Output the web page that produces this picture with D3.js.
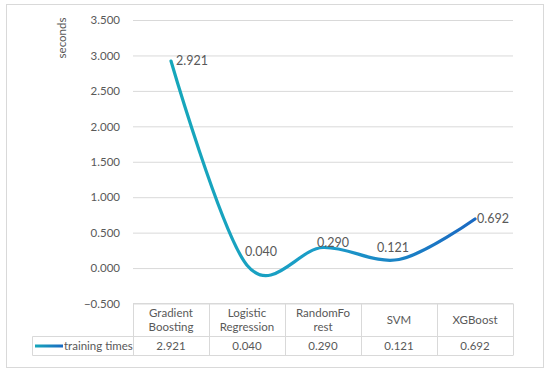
<!DOCTYPE html>
<html lang="en">
<head>
  <meta charset="UTF-8">
  <title>Training times</title>
  <script src="https://cdn.jsdelivr.net/npm/d3@7/dist/d3.min.js"></script>
  <style>
    body { margin: 0; background: #fff; }
    text { font-family: 'Lato', 'Open Sans', sans-serif; fill: #595959; }
  </style>
</head>
<body>
  <div id="chart"></div>
  <script>
    // data
    const models = ['Gradient Boosting', 'Logistic Regression', 'RandomForest', 'SVM', 'XGBoost'];
    // header text as it wraps in the table
    const headerLines = [['Gradient', 'Boosting'], ['Logistic', 'Regression'], ['RandomFo', 'rest'], ['SVM'], ['XGBoost']];
    const trainingTimes = [2.921, 0.040, 0.290, 0.121, 0.692];
    const yTicks = [-0.5, 0, 0.5, 1, 1.5, 2, 2.5, 3, 3.5];
    const seriesName = 'training times';

    const W = 550, H = 372;
    const plot = { left: 133, right: 513, top: 20, bottom: 303.5 };
    const grid = '#d9d9d9';

    const svg = d3.select('#chart').append('svg')
      .attr('width', W)
      .attr('height', H);

    // outer frame
    svg.append('rect')
      .attr('x', 6.5).attr('y', 4.5)
      .attr('width', 537).attr('height', 363)
      .attr('fill', '#fff')
      .attr('stroke', grid);

    let x = d3.scaleBand()
      .domain(models)
      .range([plot.left, plot.right]);
    let y = d3.scaleLinear()
      .domain([-0.5, 3.5])
      .range([plot.bottom, plot.top]);

    // gridlines + labels
    let yAxis = d3.axisLeft(y)
      .tickValues(yTicks)
      .tickFormat(d3.format('.3f'))
      .tickSize(-(plot.right - plot.left))
      .tickPadding(13);
    let yg = svg.append('g')
      .attr('transform', `translate(${plot.left},0)`)
      .call(yAxis);
    yg.select('.domain').remove();
    yg.selectAll('line').attr('stroke', grid);
    yg.selectAll('text')
      .style('font-size', '11.5px')
      .attr('fill', '#595959');

    svg.append('text')
      .attr('transform', 'translate(66,38) rotate(-90)')
      .attr('text-anchor', 'middle')
      .style('font-size', '11.5px')
      .text('seconds');

    // gradient for the line
    let defs = svg.append('defs');
    let cx = d => x(d) + x.bandwidth() / 2;
    let grad = defs.append('linearGradient')
      .attr('id', 'lineGrad')
      .attr('gradientUnits', 'userSpaceOnUse')
      .attr('x1', cx(models[0])).attr('x2', cx(models[models.length - 1]))
      .attr('y1', 0).attr('y2', 0);
    grad.append('stop').attr('offset', '0%').attr('stop-color', '#16a7ba');
    grad.append('stop').attr('offset', '50%').attr('stop-color', '#1b9cc8');
    grad.append('stop').attr('offset', '100%').attr('stop-color', '#1a69c2');

    let legGrad = defs.append('linearGradient').attr('id', 'legGrad');
    legGrad.append('stop').attr('offset', '0%').attr('stop-color', '#16a7ba');
    legGrad.append('stop').attr('offset', '100%').attr('stop-color', '#1a69c2');

    // smoothed line (Excel style = Catmull-Rom)
    let line = d3.line()
      .x((d, i) => cx(models[i]))
      .y(d => y(d))
      .curve(d3.curveCardinal.tension(0));

    svg.append('path')
      .datum(trainingTimes)
      .attr('d', line)
      .attr('fill', 'none')
      .attr('stroke', 'url(#lineGrad)')
      .attr('stroke-width', 3.2)
      .attr('stroke-linecap', 'round');

    // data labels (moved around a bit like in the original)
    const labelShift = [[5, 0], [-2, -13.5], [-6, -5], [-22, -12], [2, 0]];
    svg.selectAll('.dlabel')
      .data(trainingTimes)
      .enter().append('text')
      .attr('class', 'dlabel')
      .attr('x', (d, i) => cx(models[i]) + labelShift[i][0])
      .attr('y', (d, i) => y(d) + labelShift[i][1])
      .attr('dy', '0.35em')
      .style('font-size', '12.5px')
      .text(d => d3.format('.3f')(d));

    // data table
    const tTop = plot.bottom, tMid = 336.5, tBot = 355.5, legLeft = 32.5;
    let table = svg.append('g').attr('stroke', grid).attr('stroke-width', 1);
    table.append('line').attr('x1', plot.left).attr('x2', plot.right).attr('y1', tTop).attr('y2', tTop);
    table.append('line').attr('x1', legLeft).attr('x2', plot.right).attr('y1', tMid).attr('y2', tMid);
    table.append('line').attr('x1', legLeft).attr('x2', plot.right).attr('y1', tBot).attr('y2', tBot);
    table.append('line').attr('x1', legLeft).attr('x2', legLeft).attr('y1', tMid).attr('y2', tBot);
    table.selectAll('.vline')
      .data(models)
      .enter().append('line')
      .attr('class', 'vline')
      .attr('x1', d => Math.round(x(d)) + 0.5)
      .attr('x2', d => Math.round(x(d)) + 0.5)
      .attr('y1', tTop).attr('y2', tBot);
    table.append('line')
      .attr('x1', plot.right + 0.5).attr('x2', plot.right + 0.5)
      .attr('y1', tTop).attr('y2', tBot);

    // header cells
    let heads = svg.selectAll('.head')
      .data(models)
      .enter().append('text')
      .attr('class', 'head')
      .attr('text-anchor', 'middle')
      .style('font-size', '11.5px');
    heads.each(function (d, i) {
      let lines = headerLines[i];
      let mid = (tTop + tMid) / 2;
      let start = mid - (lines.length - 1) * 7;
      lines.forEach((l, j) => {
        d3.select(this).append('tspan')
          .attr('x', cx(d))
          .attr('y', start + j * 14)
          .attr('dy', '0.35em')
          .text(l);
      });
    });

    // value cells
    svg.selectAll('.val')
      .data(trainingTimes)
      .enter().append('text')
      .attr('class', 'val')
      .attr('x', (d, i) => cx(models[i]))
      .attr('y', (tMid + tBot) / 2)
      .attr('dy', '0.35em')
      .attr('text-anchor', 'middle')
      .style('font-size', '11.5px')
      .text(d => d3.format('.3f')(d));

    // legend key in the table
    svg.append('line')
      .attr('x1', 35).attr('x2', 63)
      .attr('y1', (tMid + tBot) / 2).attr('y2', (tMid + tBot) / 2 + 0.01)
      .attr('stroke', 'url(#legGrad)')
      .attr('stroke-width', 3);
    svg.append('text')
      .attr('x', 64)
      .attr('y', (tMid + tBot) / 2)
      .attr('dy', '0.35em')
      .style('font-size', '11.5px')
      .text(seriesName);
  </script>
</body>
</html>
